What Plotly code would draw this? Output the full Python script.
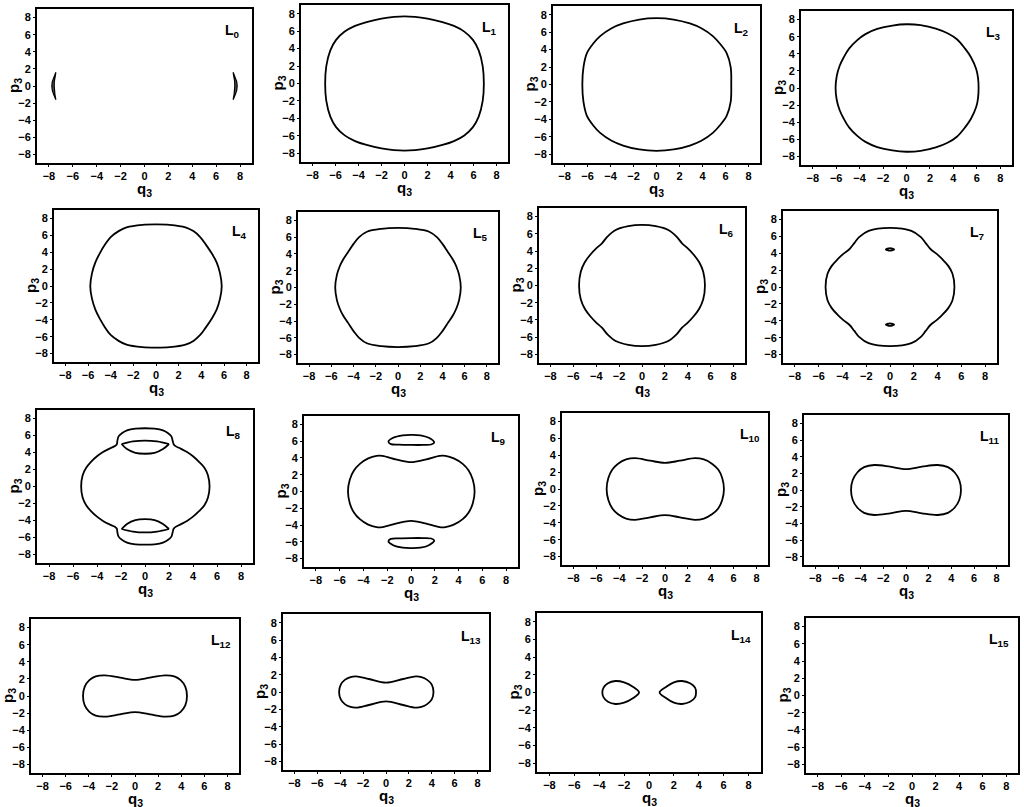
import plotly.graph_objects as go
from plotly.subplots import make_subplots

# upper halves of the level curves (q3, p3);
# every curve is symmetric about p3 = 0, the lower half is its mirror
L0_left_q = [-7.42, -7.6, -7.72, -7.76, -7.72, -7.6, -7.42, -7.5, -7.55, -7.56, -7.55, -7.5, -7.42]
L0_left_p = [1.6, 1.0, 0.5, 0.0, -0.5, -1.0, -1.6, -1.0, -0.5, 0.0, 0.5, 1.0, 1.6]
L0_right_q = [7.42, 7.6, 7.72, 7.76, 7.72, 7.6, 7.42, 7.5, 7.55, 7.56, 7.55, 7.5, 7.42]
L0_right_p = [1.6, 1.0, 0.5, 0.0, -0.5, -1.0, -1.6, -1.0, -0.5, 0.0, 0.5, 1.0, 1.6]

L1_q = [-6.9, -6.8, -6.45, -5.95, -5.2, -4.3, -3.3, -2.0, 0.0, 2.0, 3.3, 4.3, 5.2, 5.95, 6.45, 6.8, 6.9]
L1_p = [0.0, 2.0, 3.8, 5.0, 5.95, 6.6, 7.05, 7.45, 7.7, 7.45, 7.05, 6.6, 5.95, 5.0, 3.8, 2.0, 0.0]

L2_q = [-6.45, -6.35, -6.05, -5.5, -4.9, -3.9, -2.9, -1.5, 0.0, 1.5, 2.9, 3.9, 4.9, 5.5, 6.1, 6.45, 6.5]
L2_p = [0.0, 2.0, 3.6, 4.7, 5.55, 6.45, 7.0, 7.45, 7.6, 7.45, 7.0, 6.45, 5.55, 4.7, 3.6, 2.0, 0.0]

L3_q = [-6.05, -5.95, -5.7, -5.35, -4.9, -4.2, -3.5, -2.5, -1.2, 0.0, 1.2, 2.5, 3.5, 4.3, 5.0, 5.5, 5.95, 6.1, 6.15]
L3_p = [0.0, 1.4, 2.6, 3.6, 4.6, 5.6, 6.3, 6.9, 7.3, 7.45, 7.35, 6.95, 6.4, 5.7, 4.6, 3.6, 2.2, 1.2, 0.0]

L4_q = [-5.8, -5.65, -5.35, -4.95, -4.5, -4.0, -3.3, -2.6, -1.2, 0.0, 1.2, 2.6, 3.3, 3.9, 4.4, 4.9, 5.35, 5.65, 5.8]
L4_p = [0.0, 1.5, 2.8, 3.9, 4.9, 5.8, 6.5, 6.95, 7.25, 7.3, 7.25, 6.95, 6.5, 5.8, 4.9, 3.9, 2.8, 1.5, 0.0]

L5_q = [-5.65, -5.5, -5.25, -4.95, -4.5, -4.0, -3.5, -2.8, -1.5, 0.0, 1.5, 2.8, 3.5, 4.0, 4.5, 4.95, 5.25, 5.5, 5.65]
L5_p = [0.0, 1.5, 2.5, 3.3, 4.2, 5.2, 6.0, 6.65, 7.0, 7.1, 7.0, 6.65, 6.0, 5.2, 4.2, 3.3, 2.5, 1.5, 0.0]

L6_q = [-5.5, -5.35, -5.0, -4.5, -4.0, -3.5, -3.0, -2.3, -1.2, 0.0, 1.2, 2.3, 3.0, 3.5, 4.0, 4.5, 5.0, 5.35, 5.5]
L6_p = [0.0, 1.6, 2.7, 3.6, 4.3, 4.9, 5.7, 6.45, 6.9, 7.05, 6.9, 6.45, 5.7, 4.9, 4.3, 3.6, 2.7, 1.6, 0.0]

L7_q = [-5.42, -5.25, -4.9, -4.4, -3.9, -3.4, -3.0, -2.6, -1.8, 0.0, 1.8, 2.6, 3.0, 3.4, 3.9, 4.4, 4.9, 5.25, 5.42]
L7_p = [0.0, 1.6, 2.5, 3.3, 3.95, 4.5, 5.2, 5.9, 6.65, 7.0, 6.65, 5.9, 5.2, 4.5, 3.95, 3.3, 2.5, 1.6, 0.0]
L7_spot_q = [-0.35, 0.0, 0.35, 0.0, -0.35]
L7_spot_p = [4.45, 4.6, 4.45, 4.3, 4.45]

L8_q = [-5.32, -5.2, -4.9, -4.5, -4.0, -3.5, -3.0, -2.5, -2.35, -2.3, -2.2, -1.9, -1.5, -0.8, 0.0,
        0.8, 1.5, 1.9, 2.2, 2.3, 2.4, 2.55, 3.0, 3.5, 4.0, 4.5, 4.95, 5.25, 5.38]
L8_p = [0.0, 1.3, 2.2, 2.9, 3.55, 4.05, 4.43, 4.75, 4.95, 5.4, 5.9, 6.3, 6.6, 6.8, 6.85,
        6.8, 6.6, 6.3, 5.9, 5.4, 4.95, 4.75, 4.43, 4.05, 3.55, 2.9, 2.2, 1.3, 0.0]
L8_lens_top_q = [-1.95, -1.0, 0.0, 1.0, 2.0]
L8_lens_top_p = [5.0, 5.3, 5.4, 5.3, 5.0]
L8_lens_bot_q = [-1.95, -1.5, -0.8, 0.0, 0.8, 1.5, 2.0]
L8_lens_bot_p = [5.0, 4.4, 3.95, 3.85, 3.95, 4.4, 5.0]

L9_q = [-5.3, -5.15, -4.8, -4.3, -3.6, -2.9, -2.4, -1.2, 0.0, 1.2, 2.4, 2.9, 3.6, 4.35, 4.85, 5.2, 5.35]
L9_p = [0.0, 1.4, 2.5, 3.3, 3.95, 4.25, 4.25, 3.8, 3.5, 3.8, 4.25, 4.25, 3.95, 3.3, 2.5, 1.4, 0.0]
L9_island_q = [-1.9, -1.5, -0.7, 0.0, 0.8, 1.5, 1.95, 1.7, 1.0, 0.0, -1.0, -1.7]
L9_island_p = [5.95, 6.4, 6.7, 6.75, 6.7, 6.4, 5.85, 5.6, 5.55, 5.55, 5.58, 5.65]

L10_q = [-5.1, -4.95, -4.6, -4.1, -3.4, -2.6, -1.3, 0.0, 1.3, 2.6, 3.4, 4.1, 4.65, 5.0, 5.15]
L10_p = [0.0, 1.3, 2.3, 3.0, 3.5, 3.65, 3.35, 3.1, 3.35, 3.65, 3.5, 3.0, 2.3, 1.3, 0.0]

L11_q = [-4.85, -4.7, -4.3, -3.7, -2.8, -1.4, 0.0, 1.4, 2.8, 3.7, 4.3, 4.7, 4.85]
L11_p = [0.0, 1.2, 2.1, 2.75, 3.0, 2.8, 2.5, 2.8, 3.0, 2.75, 2.1, 1.2, 0.0]

L12_q = [-4.5, -4.35, -3.95, -3.4, -2.6, -1.3, 0.0, 1.3, 2.6, 3.4, 3.95, 4.35, 4.5]
L12_p = [0.0, 1.1, 1.85, 2.3, 2.42, 2.15, 1.88, 2.15, 2.42, 2.3, 1.85, 1.1, 0.0]

L13_q = [-4.1, -3.95, -3.6, -3.1, -2.6, -1.5, 0.0, 1.5, 2.6, 3.1, 3.6, 4.0, 4.15]
L13_p = [0.0, 0.85, 1.4, 1.72, 1.8, 1.5, 1.08, 1.5, 1.8, 1.72, 1.4, 0.85, 0.0]

L14_left_q = [-3.75, -3.65, -3.3, -2.7, -2.0, -1.3, -0.8]
L14_left_p = [0.0, 0.55, 1.05, 1.3, 1.15, 0.65, 0.0]
L14_right_q = [0.85, 1.4, 2.0, 2.65, 3.3, 3.7, 3.78]
L14_right_p = [0.0, 0.65, 1.15, 1.3, 1.05, 0.55, 0.0]

ticks = [-8, -6, -4, -2, 0, 2, 4, 6, 8]
labels = ['L<sub>%d</sub>' % i for i in range(16)]
x_title = 'q<sub>3</sub>'
y_title = 'p<sub>3</sub>'

# plot frames in page pixels: left, right, top, bottom
frames = [
    (37, 252, 9, 163), (301, 508, 5, 162), (553, 760, 6, 163), (801, 1012, 11, 165),
    (54, 258, 210, 362), (298, 498, 212, 363), (539, 745, 208, 363), (783, 997, 211, 363),
    (37, 253, 410, 563), (304, 518, 416, 567), (562, 768, 413, 565), (804, 1008, 415, 565),
    (31, 239, 619, 773), (283, 489, 614, 770), (537, 761, 613, 772), (806, 1018, 618, 773),
]

W, H = 1024, 807


def ring(q, p):
    """Close an upper half with its mirror image and start the loop mid-way on top."""
    rq = q + q[-2:0:-1]
    rp = p + [-v for v in p[-2:0:-1]]
    k = len(q) // 2
    return rq[k:] + rq[:k + 1], rp[k:] + rp[:k + 1]


def loop(q, p):
    k = len(q) // 2
    return q[k:] + q[:k + 1], p[k:] + p[:k + 1]


def mirror(q, p):
    return q, [-v for v in p]


curves = {
    1: [ring(L1_q, L1_p)],
    2: [ring(L2_q, L2_p)],
    3: [ring(L3_q, L3_p)],
    4: [ring(L4_q, L4_p)],
    5: [ring(L5_q, L5_p)],
    6: [ring(L6_q, L6_p)],
    7: [ring(L7_q, L7_p), (L7_spot_q, L7_spot_p), mirror(L7_spot_q, L7_spot_p)],
    8: [ring(L8_q, L8_p),
        (L8_lens_top_q, L8_lens_top_p), (L8_lens_bot_q, L8_lens_bot_p),
        mirror(L8_lens_top_q, L8_lens_top_p), mirror(L8_lens_bot_q, L8_lens_bot_p)],
    9: [ring(L9_q, L9_p), loop(L9_island_q, L9_island_p),
        mirror(*loop(L9_island_q, L9_island_p))],
    10: [ring(L10_q, L10_p)],
    11: [ring(L11_q, L11_p)],
    12: [ring(L12_q, L12_p)],
    13: [ring(L13_q, L13_p)],
    14: [ring(L14_left_q, L14_left_p), ring(L14_right_q, L14_right_p)],
}

fig = make_subplots(rows=4, cols=4)

# L0: two thin filled crescents
for q, p in [(L0_left_q, L0_left_p), (L0_right_q, L0_right_p)]:
    fig.add_trace(go.Scatter(
        x=q, y=p, mode='lines', fill='toself', fillcolor='#555555',
        line=dict(color='black', width=1.2), showlegend=False, hoverinfo='skip'
    ), row=1, col=1)

for k, segs in curves.items():
    r, c = k // 4 + 1, k % 4 + 1
    for q, p in segs:
        fig.add_trace(go.Scatter(
            x=q, y=p, mode='lines',
            line=dict(color='black', width=1.8, shape='spline', smoothing=1.0),
            showlegend=False, hoverinfo='skip'
        ), row=r, col=c)

font = 'Liberation Sans, Arial, sans-serif'
title_font = dict(family=font, size=15, color='black', weight='bold')
axis_style = dict(
    range=[-9, 9], tickvals=ticks, ticks='outside', ticklen=2, tickwidth=1.2,
    tickcolor='black', showline=True, linecolor='black', linewidth=1.8, mirror=True,
    showgrid=False, zeroline=False, automargin=False,
    tickfont=dict(family=font, size=11, color='black', weight='bold'),
)

for i, (l, r, t, b) in enumerate(frames):
    n = '' if i == 0 else str(i + 1)
    fig.layout['xaxis' + n].update(domain=[l / W, r / W], **axis_style)
    fig.layout['yaxis' + n].update(domain=[1 - b / H, 1 - t / H], **axis_style)
    # axis titles as annotations so none gets pushed into the tick labels
    fig.add_annotation(
        x=0.5, y=0, xref='x%s domain' % n, yref='y%s domain' % n, text=x_title,
        showarrow=False, xanchor='center', yanchor='middle', yshift=-26,
        borderpad=0, font=title_font
    )
    fig.add_annotation(
        x=0, y=0.5, xref='x%s domain' % n, yref='y%s domain' % n, text=y_title,
        showarrow=False, textangle=-90, xanchor='center', yanchor='middle', xshift=-23,
        borderpad=0, font=title_font
    )
    fig.add_annotation(
        x=7.4, y=6.4, xref='x' + n, yref='y' + n, text=labels[i], showarrow=False,
        font=dict(family=font, size=14, color='black', weight='bold')
    )

fig.update_layout(
    width=W, height=H,
    margin=dict(l=0, r=0, t=0, b=0),
    paper_bgcolor='white', plot_bgcolor='white',
)

# drop the browser's default body margin so the figure fills the page exactly
fig.write_html("out.html", config={'displayModeBar': False},
               post_script="document.body.style.margin = '0';")
